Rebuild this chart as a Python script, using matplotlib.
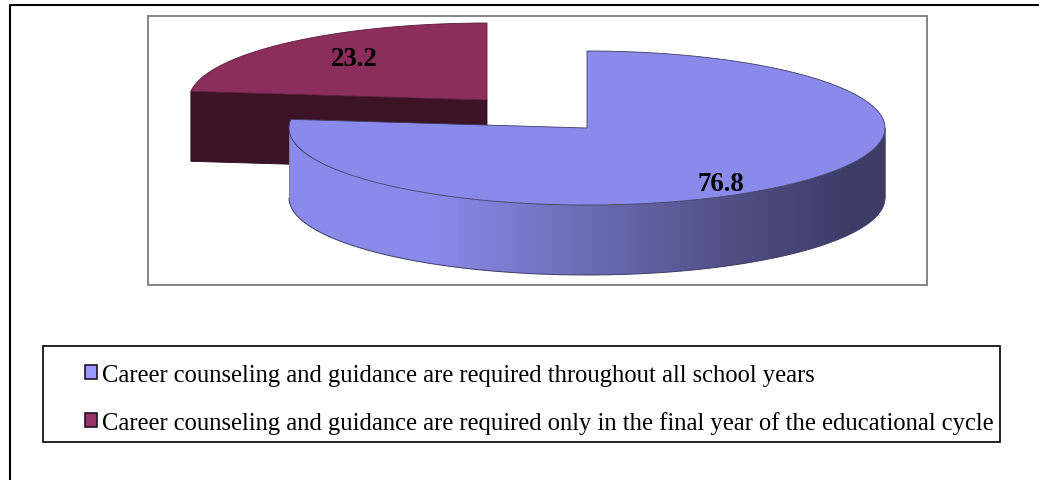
import numpy as np
import matplotlib.pyplot as plt
from matplotlib.colors import LinearSegmentedColormap
from matplotlib.lines import Line2D
from matplotlib.patches import Patch, Polygon, Rectangle

# Chart data
values = [76.8, 23.2]
labels = ['Career counseling and guidance are required throughout all school years',
          'Career counseling and guidance are required only in the final year of the educational cycle']
top_colors = ['#8a8aea', '#8c2e5c']
wall_colors = ['#8a8aea', '#3b1226']
swatch_colors = ['#9999ff', '#993366']

plt.rcParams['font.family'] = ['Liberation Serif', 'DejaVu Serif']

fig = plt.figure(figsize=(10.39, 4.81), dpi=100)
ax = fig.add_axes([0, 0, 1, 1])
ax.axis('off')

# Page lines and plot frame
ax.add_line(Line2D([1039, 10, 10], [6, 6, 481], color='black', lw=1.5))
ax.add_patch(Rectangle((148, 17), 779, 269, fc='white', ec='#858585', lw=1.4))

rx, ry, depth = 298, 77, 70
sweep = [v / sum(values) * 360 for v in values]


def rim(cx, cy, t0, t1, n=300):
    t = np.radians(np.linspace(t0, t1, n))
    return cx + rx * np.cos(t), cy - ry * np.sin(t)


# Small slice, pulled out to the upper left
cx, cy = 487, 101
start = 90 - sweep[0]
x, y = rim(cx, cy, start, start - sweep[1])
ax.add_patch(Polygon([(cx, cy), (x[0], y[0]), (x[0], y[0] + depth), (cx, cy + depth)],
                     fc=wall_colors[1], ec='#2a0c1a', lw=0.6))
ax.add_patch(Polygon(np.column_stack([np.r_[cx, x], np.r_[cy, y]]),
                     fc=top_colors[1], ec='#5c1f3d', lw=0.6))
ax.text(354, 59, f'{values[1]:.1f}', fontsize=19.3, fontweight='bold', ha='center', va='center')

# Large slice with shaded side wall
cx, cy = 587, 129
x, y = rim(cx, cy, 0, -180, 500)
shade = LinearSegmentedColormap.from_list('wall', [(0, '#8a8aea'), (0.24, '#8a8aea'), (0.75, '#4f4f82'),
                                                   (0.95, '#3c3c66'), (1, '#3c3c66')])
wall = Polygon(np.column_stack([np.r_[x, x[::-1]], np.r_[y, y[::-1] + depth]]),
               fc='none', ec='none', transform=ax.transData)
ax.add_patch(wall)
grad = ax.imshow(np.linspace(0, 1, 600).reshape(1, -1), cmap=shade, aspect='auto', zorder=1.5,
                 extent=(x.min(), x.max(), cy + ry + depth, cy))
grad.set_clip_path(wall)
ax.plot(x, y + depth, color='#3c3c66', lw=0.7, zorder=1.6)
ax.plot([x[-1], x[-1]], [y[-1], y[-1] + depth], color='#77779f', lw=0.6, zorder=1.6)
ax.plot([x[0], x[0]], [y[0], y[0] + depth], color='#55557a', lw=0.6, zorder=1.6)
x, y = rim(cx, cy, 90, 90 - sweep[0], 500)
ax.add_patch(Polygon(np.column_stack([np.r_[cx, x], np.r_[cy, y]]),
                     fc=top_colors[0], ec='#3c3c66', lw=0.6, zorder=2))
ax.text(721, 185, f'{values[0]:.1f}', fontsize=19.3, fontweight='bold', ha='center', va='center')

ax.set_xlim(0, 1039)
ax.set_ylim(481, 0)

# Legend
ax.add_patch(Rectangle((43, 347), 957, 96, fc='white', ec='black', lw=1.2))
handles = [Patch(fc=c, ec='#20102a', lw=1.2) for c in swatch_colors]
ax.legend(handles, labels, loc='upper left', bbox_to_anchor=(85 / 1039, 1 - 365 / 481),
          frameon=False, borderpad=0, borderaxespad=0, fontsize=17.7, handlelength=0.5,
          handleheight=0.5, handletextpad=0.2, labelspacing=1.0)

fig.savefig('out.png', dpi=100)
